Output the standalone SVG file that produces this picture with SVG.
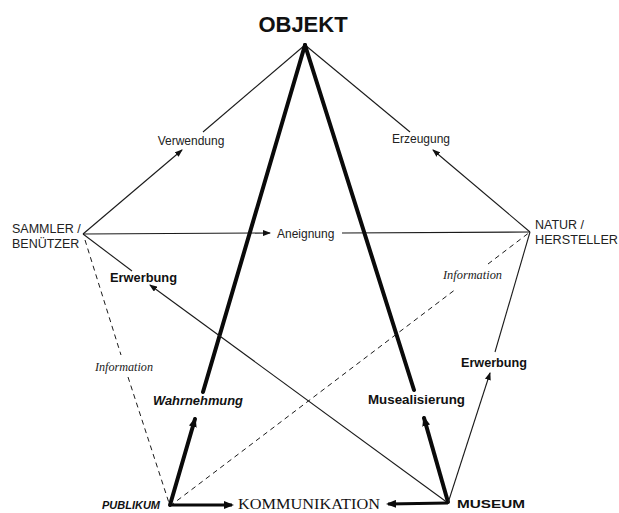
<svg xmlns="http://www.w3.org/2000/svg" width="619" height="513" viewBox="0 0 619 513">
<defs>
<style>
.thin{stroke:#1a1a1a;stroke-width:1.1;fill:none}
.thick{stroke:#0a0a0a;stroke-width:4;fill:none;stroke-linecap:round}
.mid{stroke:#0a0a0a;stroke-width:3;fill:none}
.dash{stroke:#1a1a1a;stroke-width:1;fill:none;stroke-dasharray:5 4}
.lbl{font-family:"Liberation Sans",Arial,sans-serif;font-size:12px;fill:#222}
.blbl{font-family:"Liberation Sans",Arial,sans-serif;font-size:13px;font-weight:bold;fill:#111}
.info{font-family:"Liberation Serif","Times New Roman",serif;font-size:12px;font-style:italic;fill:#222}
.node{font-family:"Liberation Sans",Arial,sans-serif;font-size:12.5px;fill:#222}
</style>
<marker id="aThin" markerWidth="8" markerHeight="6" refX="7" refY="3" orient="auto" markerUnits="userSpaceOnUse">
<path d="M0,0 L8,3 L0,6 Z" fill="#111"/>
</marker>
<marker id="aThick" markerWidth="10" markerHeight="8" refX="8" refY="4" orient="auto" markerUnits="userSpaceOnUse">
<path d="M0,0 L10,4 L0,8 Z" fill="#0a0a0a"/>
</marker>
</defs>
<rect width="619" height="513" fill="#fff"/>

<g id="connectors">
<line class="thin" x1="83" y1="234" x2="182" y2="150" marker-end="url(#aThin)"/>
<line class="thin" x1="203" y1="132" x2="305" y2="45"/>
<text class="lbl" x="191" y="145" text-anchor="middle">Verwendung</text>
<line class="thin" x1="530" y1="232" x2="433" y2="150" marker-end="url(#aThin)"/>
<line class="thin" x1="410" y1="132" x2="305" y2="45"/>
<text class="lbl" x="421" y="143" text-anchor="middle">Erzeugung</text>
<line class="thin" x1="83" y1="234" x2="270" y2="233" marker-end="url(#aThin)"/>
<line class="thin" x1="342" y1="233" x2="530" y2="232"/>
<text class="lbl" x="277" y="238">Aneignung</text>
<line class="thick" x1="305" y1="45" x2="203" y2="392"/>
<line class="thick" x1="170" y1="505" x2="195" y2="419" marker-end="url(#aThick)"/>
<text class="blbl" x="153" y="405" font-style="italic" textLength="90" lengthAdjust="spacingAndGlyphs">Wahrnehmung</text>
<line class="thick" x1="305" y1="45" x2="414" y2="390"/>
<line class="thick" x1="448" y1="502" x2="424" y2="418" marker-end="url(#aThick)"/>
<text class="blbl" x="368" y="404" textLength="97" lengthAdjust="spacingAndGlyphs">Musealisierung</text>
<line class="thin" x1="530" y1="232" x2="495" y2="352"/>
<line class="thin" x1="448" y1="503" x2="490" y2="373" marker-end="url(#aThin)"/>
<text class="blbl" x="461" y="367" textLength="66" lengthAdjust="spacingAndGlyphs">Erwerbung</text>
<line class="thin" x1="83" y1="234" x2="132" y2="271"/>
<line class="thin" x1="448" y1="503" x2="150" y2="285" marker-end="url(#aThin)"/>
<text class="blbl" x="110" y="282" textLength="67" lengthAdjust="spacingAndGlyphs">Erwerbung</text>
<line class="dash" x1="85" y1="240" x2="121" y2="355"/>
<line class="dash" x1="128" y1="377" x2="170" y2="506"/>
<text class="info" x="95" y="371" textLength="58" lengthAdjust="spacingAndGlyphs">Information</text>
<line class="dash" x1="170" y1="506" x2="456" y2="289"/>
<line class="dash" x1="488" y1="264" x2="530" y2="232"/>
<text class="info" x="443" y="279" textLength="59" lengthAdjust="spacingAndGlyphs">Information</text>
<line class="mid" x1="170" y1="505" x2="232" y2="505" marker-end="url(#aThick)"/>
<line class="mid" x1="448" y1="503" x2="388" y2="504" marker-end="url(#aThick)"/>
</g>

<g id="objekt">
<text x="303" y="32" text-anchor="middle" font-family="'Liberation Sans',Arial,sans-serif" font-size="22" font-weight="bold" fill="#111">OBJEKT</text>
</g>
<g id="sammler">
<text class="node" x="12" y="233">SAMMLER /</text>
<text class="node" x="12" y="248">BENÜTZER</text>
</g>
<g id="natur">
<text class="node" x="535" y="229">NATUR /</text>
<text class="node" x="535" y="244" textLength="83" lengthAdjust="spacingAndGlyphs">HERSTELLER</text>
</g>
<g id="publikum">
<text x="102" y="509" font-family="'Liberation Sans',Arial,sans-serif" font-size="10" font-weight="bold" font-style="italic" fill="#111" textLength="58" lengthAdjust="spacingAndGlyphs">PUBLIKUM</text>
</g>
<g id="museum">
<text x="457" y="508" font-family="'Liberation Sans',Arial,sans-serif" font-size="11.5" font-weight="bold" fill="#111" textLength="68" lengthAdjust="spacingAndGlyphs">MUSEUM</text>
</g>
<g id="kommunikation">
<text x="238" y="509" font-family="'Liberation Serif','Times New Roman',serif" font-size="15.5" fill="#111" textLength="142" lengthAdjust="spacingAndGlyphs">KOMMUNIKATION</text>
</g>
</svg>
